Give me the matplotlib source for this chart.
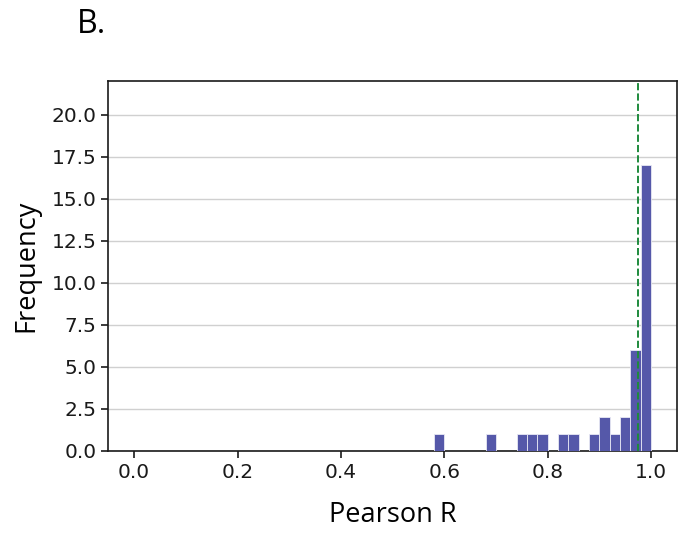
import matplotlib.pyplot as plt
import numpy as np

# Histogram of Pearson R (bin start -> count), bin width 0.02
bin_starts = [0.58, 0.68, 0.74, 0.76, 0.78, 0.82, 0.84, 0.88, 0.90, 0.92, 0.94, 0.96, 0.98]
counts = [1, 1, 1, 1, 1, 1, 1, 1, 2, 1, 2, 6, 17]
bin_width = 0.02
ref_line = 0.976
yticks = [0.0, 2.5, 5.0, 7.5, 10.0, 12.5, 15.0, 17.5, 20.0]
xticks = [0.0, 0.2, 0.4, 0.6, 0.8, 1.0]

fig = plt.figure(figsize=(6.83, 5.39), dpi=100)
ax = fig.add_axes([0.1586, 0.1633, 0.8322, 0.6864])

ax.bar(bin_starts, counts, width=bin_width, align='edge', color='#5558a9',
       edgecolor='#e8e8f4', linewidth=0.6, zorder=3)
ax.axvline(ref_line, color='#1e8a3c', linestyle='--', linewidth=1.4, zorder=4)

ax.set_xlim(-0.05, 1.05)
ax.set_ylim(0, 22)
ax.set_yticks(yticks)
ax.set_yticklabels([f'{v:.1f}' for v in yticks])
ax.set_xticks(xticks)
ax.set_xticklabels([f'{v:.1f}' for v in xticks])
ax.tick_params(labelsize=14.5, length=5, width=1.2, colors='#1a1a1a')
ax.grid(axis='y', color='#d0d0d0', linewidth=1, zorder=0)
for s in ax.spines.values():
    s.set_linewidth(1.2)
    s.set_color('#1a1a1a')

ax.set_xlabel('Pearson R', fontsize=19.5, family='Open Sans', labelpad=14)
ax.set_ylabel('Frequency', fontsize=19.5, family='Open Sans', labelpad=8)

fig.text(0.112, 0.955, 'B.', fontsize=23, family='Open Sans', ha='left', va='center')

fig.savefig('out.png', dpi=100)
